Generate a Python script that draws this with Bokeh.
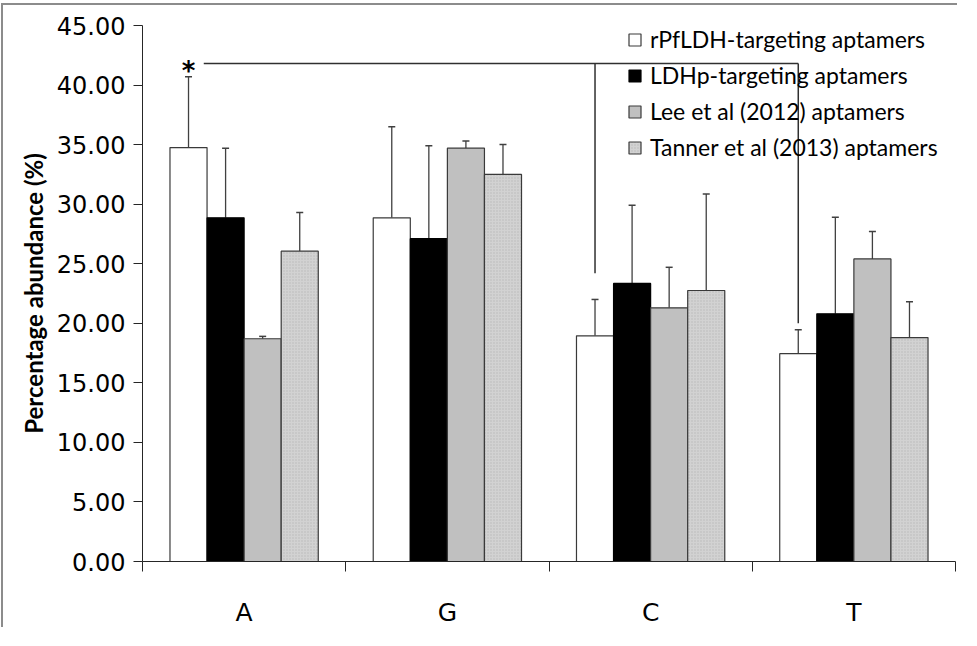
from bokeh.plotting import figure
from bokeh.models import (ColumnDataSource, FixedTicker, Legend, LegendItem, Whisker,
                          TeeHead, NumeralTickFormatter)
from bokeh.core.properties import value
from bokeh.embed import file_html
from bokeh.resources import INLINE

# ---------------- data ----------------
bases = ["A", "G", "C", "T"]
series_names = ["rPfLDH-targeting aptamers", "LDHp-targeting aptamers",
                "Lee et al (2012) aptamers", "Tanner et al (2013) aptamers"]
rpfldh_mean = [34.75, 28.85, 18.95, 17.45]
rpfldh_sd = [5.95, 7.65, 3.05, 2.0]
ldhp_mean = [28.85, 27.1, 23.35, 20.8]
ldhp_sd = [5.85, 7.8, 6.55, 8.1]
lee_mean = [18.7, 34.7, 21.3, 25.4]
lee_sd = [0.2, 0.6, 3.4, 2.3]
tanner_mean = [26.05, 32.5, 22.75, 18.8]
tanner_sd = [3.25, 2.5, 8.1, 3.0]
y_ticks = [0, 5, 10, 15, 20, 25, 30, 35, 40, 45]
# significance bracket: from A (rPfLDH) to C (rPfLDH) and T (rPfLDH)
bracket_y = 41.8
bracket_ends = [24.2, 20.0]      # lower ends of the two drops (C, T)
bracket_targets = [2, 3]         # category indices of the drops

means = [rpfldh_mean, ldhp_mean, lee_mean, tanner_mean]
sds = [rpfldh_sd, ldhp_sd, lee_sd, tanner_sd]

# ---------------- styles ----------------
fills = ["#ffffff", "#000000", "#c0c0c0", "#d2d2d2"]
outlines = ["#3a3a3a", "#000000", "#3a3a3a", "#3a3a3a"]
hatches = [None, None, None, "dot"]
bar_w = 0.1824
offsets = [-1.5 * bar_w, -0.5 * bar_w, 0.5 * bar_w, 1.5 * bar_w]

p = figure(width=956, height=624, x_range=(0, len(bases)), y_range=(0, 45),
           output_backend="svg", toolbar_location=None,
           min_border_left=139, min_border_top=20, min_border_right=4,
           min_border_bottom=55)
p.margin = (5, 0, 0, 3)
p.styles = {"box-shadow": "-2px -2px 0 #8c8c8c"}
p.outline_line_color = None
p.xgrid.visible = False
p.ygrid.visible = False
p.background_fill_color = "white"
p.border_fill_color = "white"

items = []
for j in range(4):
    xs = [i + 0.5 + offsets[j] for i in range(len(bases))]
    src = ColumnDataSource(dict(x=xs, top=means[j],
                                upper=[m + s for m, s in zip(means[j], sds[j])]))
    kw = {}
    if hatches[j]:
        kw = dict(hatch_pattern=hatches[j], hatch_color="#9a9a9a", hatch_scale=3,
                  hatch_alpha=0.45)
    r = p.vbar(x="x", top="top", bottom=0, width=bar_w, source=src,
               fill_color=fills[j], line_color=outlines[j], line_width=1.2, **kw)
    w = Whisker(base="x", lower="top", upper="upper", source=src,
                line_color="#404040", line_width=1.3,
                upper_head=TeeHead(size=7, line_color="#404040", line_width=1.5),
                lower_head=None, level="underlay")
    p.add_layout(w)
    items.append(LegendItem(label=series_names[j], renderers=[r]))

# significance bracket
x_a = 0 + 0.5 + offsets[0]
x_start = x_a + 0.075
x_ends = [t + 0.5 + offsets[0] for t in bracket_targets]
p.line(x=[x_start, max(x_ends)], y=[bracket_y, bracket_y], line_color="#303030",
       line_width=1.5)
for xe, ye in zip(x_ends, bracket_ends):
    p.line(x=[xe, xe], y=[bracket_y, ye], line_color="#303030", line_width=1.5)
p.text(x=[x_a], y=[bracket_y], text=["*"], text_font=value("DejaVu Sans"),
       text_font_style="bold", text_font_size="26px", text_align="center",
       text_baseline="middle", y_offset=7, text_color="#000000")

# axes
yax = p.yaxis[0]
yax.ticker = FixedTicker(ticks=y_ticks)
yax.formatter = NumeralTickFormatter(format="0.00")
yax.major_tick_out = 9
yax.major_tick_in = 0
yax.minor_tick_out = 0
yax.minor_tick_in = 0
yax.axis_line_color = "#262626"
yax.major_tick_line_color = "#262626"
yax.major_label_text_font = "DejaVu Sans"
yax.major_label_text_font_size = "24px"
yax.major_label_text_color = "#000000"
yax.major_label_standoff = 8
yax.axis_label = "Percentage abundance (%)"
yax.axis_label_text_font = "Lato"
yax.axis_label_text_font_style = "bold"
yax.axis_label_text_font_size = "24px"
yax.axis_label_text_color = "#000000"
yax.axis_label_standoff = 6

xax = p.xaxis[0]
centers = [i + 0.5 for i in range(len(bases))]
xax.ticker = FixedTicker(ticks=centers, minor_ticks=list(range(len(bases) + 1)))
xax.major_label_overrides = {c: b for c, b in zip(centers, bases)}
xax.major_tick_out = 0
xax.major_tick_in = 0
xax.minor_tick_out = 10
xax.minor_tick_in = 0
xax.minor_tick_line_color = "#262626"
xax.axis_line_color = "#262626"
xax.major_label_text_font = "DejaVu Sans"
xax.major_label_text_font_size = "25px"
xax.major_label_text_color = "#000000"
xax.major_label_standoff = 26

legend = Legend(items=items, location="top_right", orientation="vertical",
                label_text_font="Lato", label_text_font_size="23px",
                label_text_color="#000000",
                glyph_width=15, glyph_height=15, label_height=28, label_width=305,
                label_standoff=8, spacing=8, padding=0, margin=0,
                border_line_color=None, background_fill_alpha=0)
p.add_layout(legend)

open("out.html", "w").write(file_html(p, INLINE))
